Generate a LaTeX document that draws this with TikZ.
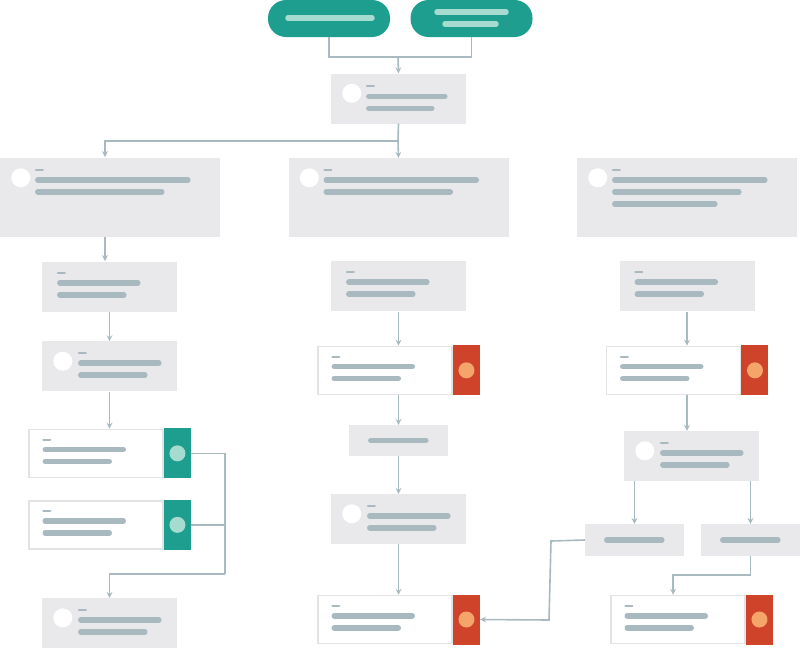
\documentclass[tikz,border=0pt]{standalone}
\usetikzlibrary{calc,positioning}
\definecolor{teal1}{HTML}{1E9E8E}
\definecolor{tealc}{HTML}{A6DCCF}
\definecolor{red1}{HTML}{D0432B}
\definecolor{orc}{HTML}{F6A56A}
\definecolor{boxg}{HTML}{E9E9EB}
\definecolor{barg}{HTML}{A8B9C0}
\definecolor{edgeg}{HTML}{E3E3E3}
% dash and two bars inside a box, measured from its north west corner
\newcommand\ph[5]{%
  \draw[bar, line width=2pt] ($(#1.north west)+(#2,#3)$) -- ++(7,0);
  \draw[bar] ($(#1.north west)+(#2+2,#3+10)$) -- ++(#4,0);
  \draw[bar] ($(#1.north west)+(#2+2,#3+22)$) -- ++(#5,0);}
\newcommand\blob[3]{\fill[white] ($(#1.north west)+(#2,#3)$) circle (9.5);}
\begin{document}
\begin{tikzpicture}[x=1pt, y=-1pt,
    box/.style={fill=boxg, inner sep=0, minimum width=135pt, minimum height=50pt},
    card/.style={fill=white, draw=edgeg, line width=1.5pt, inner sep=0, minimum width=134pt, minimum height=48pt},
    tag/.style={inner sep=0, minimum width=27pt, minimum height=50pt},
    pill/.style={fill=teal1, rounded corners=18pt, inner sep=0, minimum width=122pt, minimum height=37pt},
    bar/.style={barg, line width=5.5pt, line cap=round},
    flow/.style={draw=barg, line width=1.6pt},
    arr/.style={flow, ->, >=stealth},
  ]
  \useasboundingbox (0,0) rectangle (800,648);

  % start
  \node[pill] (s1) at (329,18.5) {};
  \node[pill] (s2) at (471.5,18.5) {};
  \draw[tealc, line width=5.5pt, line cap=round] (288,18) -- (372,18);
  \draw[tealc, line width=5.5pt, line cap=round] (437,12) -- (506,12) (445,24) -- (496,24);
  \node[box] (a) at (398.5,98.5) {};
  \blob{a}{21}{20} \ph{a}{36}{13}{76}{63}
  \draw[flow] (s1.south) |- (398,57);
  \draw[flow] (s2.south) |- (398,57);
  \draw[arr] (398,57) -- (a.north);

  % three wide boxes
  \node[box, minimum width=220pt, minimum height=79pt] (l0) at (110,197.5) {};
  \node[box, minimum width=220pt, minimum height=79pt] (m0) at (398.5,197.5) {};
  \node[box, minimum width=220pt, minimum height=79pt] (r0) at (687,197.5) {};
  \blob{l0}{21}{20} \ph{l0}{36}{12}{150}{124}
  \blob{m0}{21}{20} \ph{m0}{36}{12}{150}{124}
  \blob{r0}{21}{20} \ph{r0}{36}{12}{150}{124}
  \draw[bar] ($(r0.north west)+(38,46)$) -- ++(100,0);
  \coordinate (split) at (398,141);
  \draw[flow] (a.south) -- (split);
  \draw[arr] (split) -| (105,157);
  \draw[arr] (split) -- (m0.north);

  % left column
  \node[box] (l1) at (109.5,287) {};
  \node[box, below=29pt of l1] (l2) {};
  \node[card, below=37pt of l2, xshift=-13.5pt] (l3) {};
  \node[tag, fill=teal1, right=0pt of l3] (l3t) {};
  \node[card, below=22pt of l3] (l4) {};
  \node[tag, fill=teal1, right=0pt of l4] (l4t) {};
  \node[box] (l5) at (109.5,623) {};
  \ph{l1}{16}{11}{78}{64}
  \blob{l2}{21}{20} \ph{l2}{37}{12}{78}{64}
  \ph{l3}{15}{11}{78}{64} \ph{l4}{15}{11}{78}{64}
  \fill[tealc] (l3t) circle (8) (l4t) circle (8);
  \blob{l5}{21}{20} \ph{l5}{37}{12}{78}{64}
  \draw[arr] (105,237) -- (105,261);
  \draw[arr] (l1) -- (l2);
  \draw[arr] (l2.south) -- (l2.south |- l3.north);
  \coordinate (lj) at (225,574);
  \draw[flow] (l3t.east) -| (lj);
  \draw[flow] (l4t.east) -- (l4t.east -| lj);
  \draw[arr] (lj) -| (l5.north);

  % middle column
  \node[box, below=24pt of m0] (m1) {};
  \node[card, below=34pt of m1, xshift=-13.5pt] (m2) {};
  \node[tag, fill=red1, right=0pt of m2] (m2t) {};
  \node[box, minimum width=99pt, minimum height=31pt] (m3) at (398.5,440.5) {};
  \node[box] (m4) at (398.5,519) {};
  \node[card] (m5) at (385,619.5) {};
  \node[tag, fill=red1, right=0pt of m5] (m5t) {};
  \ph{m1}{16}{11}{78}{64}
  \ph{m2}{15}{11}{78}{64}
  \draw[bar] ($(m3.west)+(22,0)$) -- ++(55,0);
  \blob{m4}{21}{20} \ph{m4}{37}{12}{78}{64}
  \ph{m5}{15}{11}{78}{64}
  \fill[orc] (m2t) circle (8) (m5t) circle (8);
  \draw[arr] (m1) -- (m1.south |- m2.north);
  \draw[arr] (m1.south |- m2.south) -- (m3);
  \draw[arr] (m3) -- (m4);
  \draw[arr] (m4.south) -- (m4.south |- m5.north);

  % right column
  \node[box, below=24pt of r0] (r1) {};
  \node[card, below=34pt of r1, xshift=-13.5pt] (r2) {};
  \node[tag, fill=red1, right=0pt of r2] (r2t) {};
  \node[box] (r3) at (691.5,456) {};
  \node[box, minimum width=99pt, minimum height=32pt] (r4) at (634.5,540) {};
  \node[box, minimum width=99pt, minimum height=32pt] (r5) at (750.5,540) {};
  \node[card] (r6) at (678,619.5) {};
  \node[tag, fill=red1, right=0pt of r6] (r6t) {};
  \ph{r1}{16}{11}{78}{64}
  \ph{r2}{15}{11}{78}{64}
  \blob{r3}{21}{20} \ph{r3}{37}{12}{78}{64}
  \draw[bar] ($(r4.west)+(22,0)$) -- ++(55,0);
  \draw[bar] ($(r5.west)+(22,0)$) -- ++(55,0);
  \ph{r6}{15}{11}{78}{64}
  \fill[orc] (r2t) circle (8) (r6t) circle (8);
  \draw[arr] (r1) -- (r1.south |- r2.north);
  \draw[arr] (r1.south |- r2.south) -- (r3.north -| r1.south);
  \draw[arr] (r3.south -| r4) -- (r4);
  \draw[arr] (r3.south -| r5) -- (r5);
  \coordinate (rb) at (551,541);
  \coordinate (rc) at (673,575);
  \draw[arr] (r4.west) -- (rb) -- (549,620) -- (m5t.east);
  \draw[arr] (r5.south) |- (rc) -- (rc |- r6.north);
\end{tikzpicture}
\end{document}
